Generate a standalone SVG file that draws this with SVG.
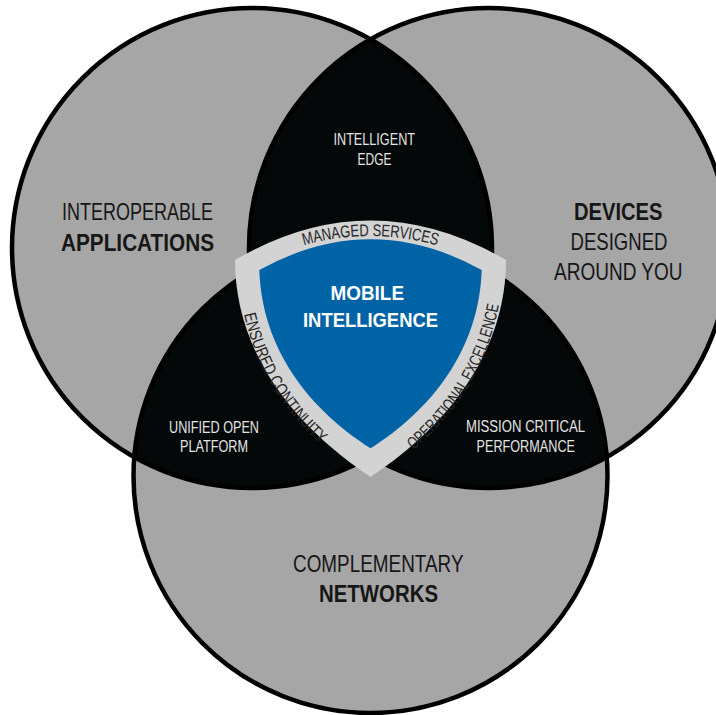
<svg xmlns="http://www.w3.org/2000/svg" width="716" height="715" viewBox="0 0 716 715">
<defs>
<style>
.disc{fill:#a6a6a6}
.ring{fill:none;stroke:#000;stroke-width:4.5}
.lens{fill:#050809}
.t{font-family:"Liberation Sans Narrow","Liberation Sans",Arial,sans-serif}
.big{font-size:24px;fill:#161616}
.b{font-weight:bold}
.small{font-size:17px;fill:#e4e4e4}
.core{font-size:21px;font-weight:bold;fill:#ffffff}
.band{font-size:17px;fill:#262626}
</style>
<clipPath id="clipL"><circle cx="252" cy="248" r="240"/></clipPath>
<clipPath id="clipR"><circle cx="489" cy="248" r="240"/></clipPath>
<path id="pTop" d="M241,271.5 Q370.5,200.5 500,271.5"/>
<path id="pLeft" d="M238.5,276 C244,352 280.5,419.5 351,467.5"/>
<path id="pRight" d="M390,467.5 C460.5,419.5 497,352 502.5,276"/>
</defs>
<rect width="716" height="715" fill="#ffffff"/>
<g id="circle-applications"><circle class="disc" cx="252" cy="248" r="240"/></g>
<g id="circle-devices"><circle class="disc" cx="489" cy="248" r="240"/></g>
<g id="circle-networks"><circle class="disc" cx="370.5" cy="476" r="237"/></g>
<g id="lens-intelligent-edge"><circle class="lens" cx="489" cy="248" r="240" clip-path="url(#clipL)"/></g>
<g id="lens-unified-open-platform"><circle class="lens" cx="370.5" cy="476" r="237" clip-path="url(#clipL)"/></g>
<g id="lens-mission-critical"><circle class="lens" cx="370.5" cy="476" r="237" clip-path="url(#clipR)"/></g>
<g id="outlines">
<circle class="ring" cx="252" cy="248" r="240"/>
<circle class="ring" cx="489" cy="248" r="240"/>
<circle class="ring" cx="370.5" cy="476" r="237"/>
</g>
<g id="labels-outer">
<text class="t big" x="62" y="220" textLength="151" lengthAdjust="spacingAndGlyphs">INTEROPERABLE</text>
<text class="t big b" x="61" y="250.5" textLength="153" lengthAdjust="spacingAndGlyphs">APPLICATIONS</text>
<text class="t big b" x="574" y="220" textLength="88.5" lengthAdjust="spacingAndGlyphs">DEVICES</text>
<text class="t big" x="570.5" y="250" textLength="97" lengthAdjust="spacingAndGlyphs">DESIGNED</text>
<text class="t big" x="554" y="280" textLength="128.5" lengthAdjust="spacingAndGlyphs">AROUND YOU</text>
<text class="t big" x="293" y="571.5" textLength="170.5" lengthAdjust="spacingAndGlyphs">COMPLEMENTARY</text>
<text class="t big b" x="319" y="601.5" textLength="119" lengthAdjust="spacingAndGlyphs">NETWORKS</text>
</g>
<g id="labels-lens">
<text class="t small" x="333.5" y="145" textLength="81.5" lengthAdjust="spacingAndGlyphs">INTELLIGENT</text>
<text class="t small" x="357.5" y="165" textLength="34" lengthAdjust="spacingAndGlyphs">EDGE</text>
<text class="t small" x="169" y="432.5" textLength="90" lengthAdjust="spacingAndGlyphs">UNIFIED OPEN</text>
<text class="t small" x="180" y="451.5" textLength="68" lengthAdjust="spacingAndGlyphs">PLATFORM</text>
<text class="t small" x="466" y="432.3" textLength="119" lengthAdjust="spacingAndGlyphs">MISSION CRITICAL</text>
<text class="t small" x="476.5" y="452.3" textLength="98.5" lengthAdjust="spacingAndGlyphs">PERFORMANCE</text>
</g>
<g id="shield">
<path fill="#d3d3d3" d="M235,260 Q370.5,181 506,260 C506,345 456,420 370.5,477 C285,420 235,345 235,260 Z"/>
<path fill="#0063a6" d="M259.3,270 Q370.5,208.6 481.7,270 C479,350 431,410 370.5,448.3 C310,410 262,350 259.3,270 Z"/>
<text class="t band" text-anchor="middle"><textPath href="#pTop" startOffset="50%" textLength="135" lengthAdjust="spacingAndGlyphs">MANAGED SERVICES</textPath></text>
<text class="t band" text-anchor="middle"><textPath href="#pLeft" startOffset="50%" textLength="153" lengthAdjust="spacingAndGlyphs">ENSURED CONTINUITY</textPath></text>
<text class="t band" text-anchor="middle"><textPath href="#pRight" startOffset="50%" textLength="172" lengthAdjust="spacingAndGlyphs">OPERATIONAL EXCELLENCE</textPath></text>
<text class="t core" x="330.5" y="300" textLength="73.5" lengthAdjust="spacingAndGlyphs">MOBILE</text>
<text class="t core" x="303" y="326.7" textLength="135" lengthAdjust="spacingAndGlyphs">INTELLIGENCE</text>
</g>
</svg>
